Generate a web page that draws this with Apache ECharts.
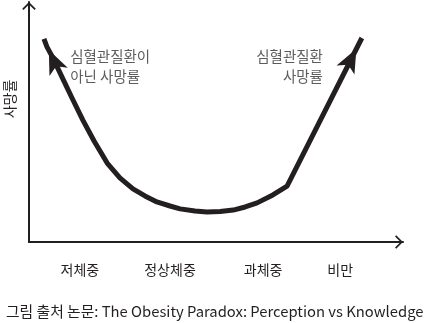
<!DOCTYPE html>
<html>
<head>
<meta charset="utf-8">
<script src="https://cdn.jsdelivr.net/npm/echarts@6/dist/echarts.min.js"></script>
<style>
html,body{margin:0;padding:0;background:#fff;}
#c{width:426px;height:323px;}
</style>
</head>
<body>
<div id="c"></div>
<script>
// Curve (relative scale 0-100 on both axes)
const curveX = [4.0, 4.8, 6.4, 8.8, 11.5, 14.4, 17.4, 20.9, 24.3, 27.8, 31.0, 34.2, 37.7, 40.4, 44.4, 47.6, 51.1, 54.6, 57.8, 61.0, 65.2, 69.0, 89.0];
const curveY = [84.6, 81.3, 76.7, 68.8, 60.0, 50.8, 42.1, 32.9, 26.7, 22.1, 19.2, 16.7, 15.0, 13.8, 12.9, 12.5, 12.7, 13.3, 14.6, 16.3, 19.6, 23.3, 85.0];
// Category labels under x-axis
const categories = ['저체중', '정상체중', '과체중', '비만'];
const categoryPos = [13.6, 37.7, 62.6, 83.2];
// Annotations
const annotTexts = ['심혈관질환이\n아닌 사망률', '심혈관질환\n사망률'];
const annotX = [11.0, 78.6];
const annotY = [73.1, 73.3];
const yName = '사망률';
const caption = '그림 출처 논문: The Obesity Paradox: Perception vs Knowledge';

const INK = '#231f20';
const FONT = '"Noto Sans CJK KR", "Noto Sans", sans-serif';
const chevron = 'path://M0,10 L10,0 L20,10 L18.2,11.8 L10,3.6 L1.8,11.8 Z';

// arrowhead placed so that its tip sits on the end point
function arrowItem(rotDeg, w, h) {
  const r = rotDeg * Math.PI / 180;
  const half = h / 2;
  return {
    symbol: 'arrow', symbolSize: [w, h], symbolRotate: rotDeg,
    symbolOffset: [half * Math.sin(r), half * Math.cos(r)]
  };
}

const curveData = curveX.map((x, i) => {
  const item = { value: [x, curveY[i]] };
  if (i === 0) Object.assign(item, arrowItem(24, 15, 24));
  else if (i === curveX.length - 1) Object.assign(item, arrowItem(-27, 15, 24));
  return item;
});

const chart = echarts.init(document.getElementById('c'), null, { renderer: 'canvas' });
chart.setOption({
  animation: false,
  backgroundColor: '#fff',
  textStyle: { fontFamily: FONT },
  title: {
    text: caption,
    left: 6,
    top: 304,
    padding: 0,
    textStyle: { fontFamily: FONT, fontSize: 14.8, fontWeight: 'normal', color: INK }
  },
  grid: { left: 29, right: 23, top: 2, bottom: 81, containLabel: false, outerBoundsMode: 'none' },
  xAxis: {
    type: 'value', min: 0, max: 100,
    splitLine: { show: false },
    axisTick: { show: false },
    axisLine: { show: true, onZero: false, lineStyle: { color: INK, width: 2 },
      symbol: ['none', chevron], symbolSize: [15, 8], symbolOffset: [0, -4] },
    axisLabel: {
      show: true, customValues: categoryPos, margin: 21,
      fontFamily: FONT, fontSize: 14, color: INK,
      formatter: (v) => { const i = categoryPos.indexOf(v); return i >= 0 ? categories[i] : ''; }
    }
  },
  yAxis: {
    type: 'value', min: 0, max: 100,
    splitLine: { show: false },
    axisTick: { show: false },
    axisLabel: { show: false },
    axisLine: { show: true, onZero: false, lineStyle: { color: INK, width: 2 },
      symbol: ['none', chevron], symbolSize: [14, 8], symbolOffset: [0, -4] },
    name: yName, nameLocation: 'middle', nameRotate: 90, nameGap: 12,
    nameTextStyle: { fontFamily: FONT, fontSize: 14, color: INK, padding: [0, 0, 0, 46] }
  },
  series: [
    {
      type: 'line',
      data: curveData,
      symbol: 'none',
      showSymbol: true,
      showAllSymbol: true,
      smooth: false,
      clip: false,
      lineStyle: { color: INK, width: 5, join: 'round', cap: 'butt' },
      itemStyle: { color: INK },
      z: 3
    },
    {
      type: 'scatter',
      symbolSize: 0,
      silent: true,
      data: annotX.map((x, i) => ({
        value: [x, annotY[i]],
        label: {
          show: true, position: [0, 0],
          align: i === 0 ? 'left' : 'right', verticalAlign: 'middle',
          formatter: annotTexts[i],
          fontFamily: FONT, fontSize: 14.5, lineHeight: 20, color: '#333'
        }
      }))
    }
  ]
});
</script>
</body>
</html>
